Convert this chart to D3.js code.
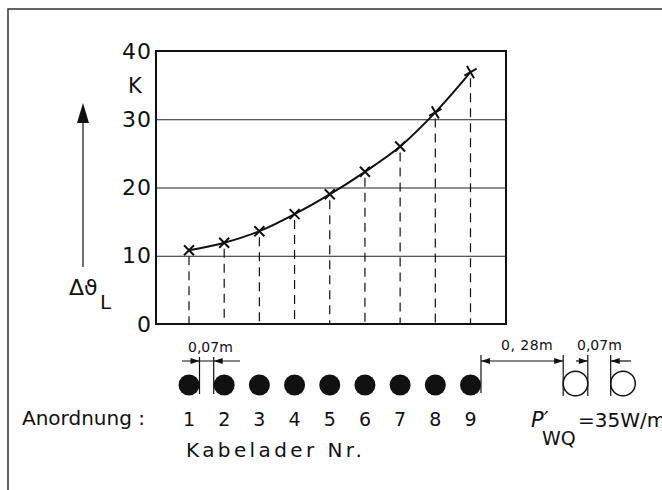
<!DOCTYPE html>
<html>
<head>
<meta charset="utf-8">
<script src="https://cdn.jsdelivr.net/npm/d3@7"></script>
<style>
  body { margin: 0; background: #fff; }
  svg { display: block; }
  text { font-family: "DejaVu Sans", sans-serif; fill: #111; }
</style>
</head>
<body>
<svg id="chart" width="662" height="490"></svg>
<script>
// cable numbers and temperature rise (K)
var cableNr = [1, 2, 3, 4, 5, 6, 7, 8, 9];
var deltaTheta = [10.8, 11.9, 13.6, 16.1, 19.0, 22.3, 26.0, 31.0, 36.9];
var yTicks = [0, 10, 20, 30, 40];
var gridTicks = [10, 20, 30];

var svg = d3.select("#chart");
var pLeft = 156, pRight = 506, pTop = 51, pBottom = 324;

var x = d3.scaleLinear().domain([1, 9]).range([189, 470.5]);
var y = d3.scaleLinear().domain([0, 40]).range([pBottom, pTop]);

// outer frame (cut off at right and bottom)
svg.append("rect")
  .attr("x", 8).attr("y", 9).attr("width", 720).attr("height", 540)
  .attr("fill", "none").attr("stroke", "#333").attr("stroke-width", 1.5);

// grid lines
svg.append("g")
  .attr("transform", "translate(" + pLeft + ",0)")
  .call(d3.axisLeft(y).tickValues(gridTicks).tickSize(-(pRight - pLeft)).tickFormat(""))
  .call(g => g.select(".domain").remove())
  .call(g => g.selectAll("line").attr("stroke", "#222").attr("stroke-width", 1));

// y labels
svg.append("g")
  .attr("transform", "translate(" + (pLeft - 4) + ",0)")
  .call(d3.axisLeft(y).tickValues(yTicks).tickSize(0).tickPadding(0))
  .call(g => g.select(".domain").remove())
  .call(g => g.selectAll("text")
    .attr("font-size", 22).attr("font-family", "DejaVu Sans, sans-serif")
    .attr("letter-spacing", 1).attr("fill", "#111"));

svg.append("text").attr("x", 128).attr("y", 93).attr("font-size", 21).text("K");

// dashed drop lines
svg.append("g").selectAll("line")
  .data(cableNr)
  .join("line")
  .attr("x1", d => x(d)).attr("x2", d => x(d))
  .attr("y1", (d, i) => y(deltaTheta[i]) + 6).attr("y2", pBottom)
  .attr("stroke", "#111").attr("stroke-width", 1.2)
  .attr("stroke-dasharray", "9,6");

// plot border
svg.append("rect")
  .attr("x", pLeft).attr("y", pTop).attr("width", pRight - pLeft).attr("height", pBottom - pTop)
  .attr("fill", "none").attr("stroke", "#111").attr("stroke-width", 2);

// curve
var line = d3.line()
  .x((d, i) => x(cableNr[i]))
  .y(d => y(d))
  .curve(d3.curveCatmullRom);

svg.append("path")
  .datum(deltaTheta)
  .attr("d", line)
  .attr("fill", "none").attr("stroke", "#111").attr("stroke-width", 2);

// x markers
svg.append("g").selectAll("path")
  .data(cableNr)
  .join("path")
  .attr("transform", (d, i) => "translate(" + x(d) + "," + y(deltaTheta[i]) + ") rotate(" + (i > 6 ? 15 : 0) + ")")
  .attr("d", "M-5,-5L5,5M-5,5L5,-5")
  .attr("stroke", "#111").attr("stroke-width", 2);

// y quantity arrow and label
svg.append("line")
  .attr("x1", 83).attr("x2", 83).attr("y1", 118).attr("y2", 267)
  .attr("stroke", "#111").attr("stroke-width", 1.2);
svg.append("path")
  .attr("d", "M83,103 L77,123 L89,123 Z").attr("fill", "#111");

var dl = svg.append("text").attr("x", 69).attr("y", 295).attr("font-size", 22);
dl.append("tspan").text("Δϑ");
dl.append("tspan").attr("x", 100).attr("y", 309).attr("font-size", 20).text("L");

// cable cross-section dots
var dotY = 385, dotR = 10.5;
svg.append("g").selectAll("circle")
  .data(cableNr)
  .join("circle")
  .attr("cx", d => x(d)).attr("cy", dotY).attr("r", dotR)
  .attr("fill", "#111");

// cable numbers
svg.append("g").selectAll("text")
  .data(cableNr)
  .join("text")
  .attr("x", d => x(d)).attr("y", 426)
  .attr("text-anchor", "middle").attr("font-size", 19)
  .text(d => d);

svg.append("text").attr("x", 22).attr("y", 425).attr("font-size", 20).text("Anordnung :");
svg.append("text").attr("x", 186).attr("y", 457).attr("font-size", 20)
  .attr("letter-spacing", 3.4).text("Kabelader Nr.");

// dimension helpers
function vline(xp, y1, y2) {
  svg.append("line").attr("x1", xp).attr("x2", xp).attr("y1", y1).attr("y2", y2)
    .attr("stroke", "#111").attr("stroke-width", 1.2);
}
function hline(x1, x2, yp) {
  svg.append("line").attr("x1", x1).attr("x2", x2).attr("y1", yp).attr("y2", yp)
    .attr("stroke", "#111").attr("stroke-width", 1.2);
}
function arrow(tipX, yp, dir) {
  svg.append("path")
    .attr("d", "M" + tipX + "," + yp + " L" + (tipX - dir * 9) + "," + (yp - 3) + " L" + (tipX - dir * 9) + "," + (yp + 3) + " Z")
    .attr("fill", "#111");
}

var dimY = 361;
// 0,07m between cable 1 and 2
var e1 = x(1) + dotR, e2 = x(2) - dotR;
vline(e1, 357, 394); vline(e2, 357, 394);
hline(182, 240, dimY);
arrow(e1, dimY, 1); arrow(e2, dimY, -1);
svg.append("text").attr("x", 188).attr("y", 352).attr("font-size", 14).text("0,07m");

// 0,28m to the heated pair
var e9 = x(9) + dotR;
var c1 = 575.5, c2 = 623, cR = 12.3;
vline(e9, 355, 393);
vline(c1 - cR, 355, 396); vline(c1 + cR, 355, 396); vline(c2 - cR, 355, 396);
hline(e9, c1 - cR, dimY);
arrow(e9, dimY, -1); arrow(c1 - cR, dimY, 1);
svg.append("text").attr("x", 501).attr("y", 350).attr("font-size", 14).attr("letter-spacing", 0.5).text("0, 28m");

hline(576, c1 + cR, dimY); hline(c2 - cR, 631, dimY);
arrow(c1 + cR, dimY, 1); arrow(c2 - cR, dimY, -1);
svg.append("text").attr("x", 577).attr("y", 350).attr("font-size", 14).text("0,07m");

svg.selectAll(".heat")
  .data([c1, c2])
  .join("circle")
  .attr("cx", d => d).attr("cy", 383.5).attr("r", cR)
  .attr("fill", "none").attr("stroke", "#111").attr("stroke-width", 1.5);

// heat source label
svg.append("text").attr("x", 531).attr("y", 427).attr("font-size", 21)
  .attr("font-style", "italic").text("P′");
svg.append("text").attr("x", 542).attr("y", 445).attr("font-size", 19).text("WQ");
svg.append("text").attr("x", 578).attr("y", 427).attr("font-size", 20).text("=35W/m");
</script>
</body>
</html>
